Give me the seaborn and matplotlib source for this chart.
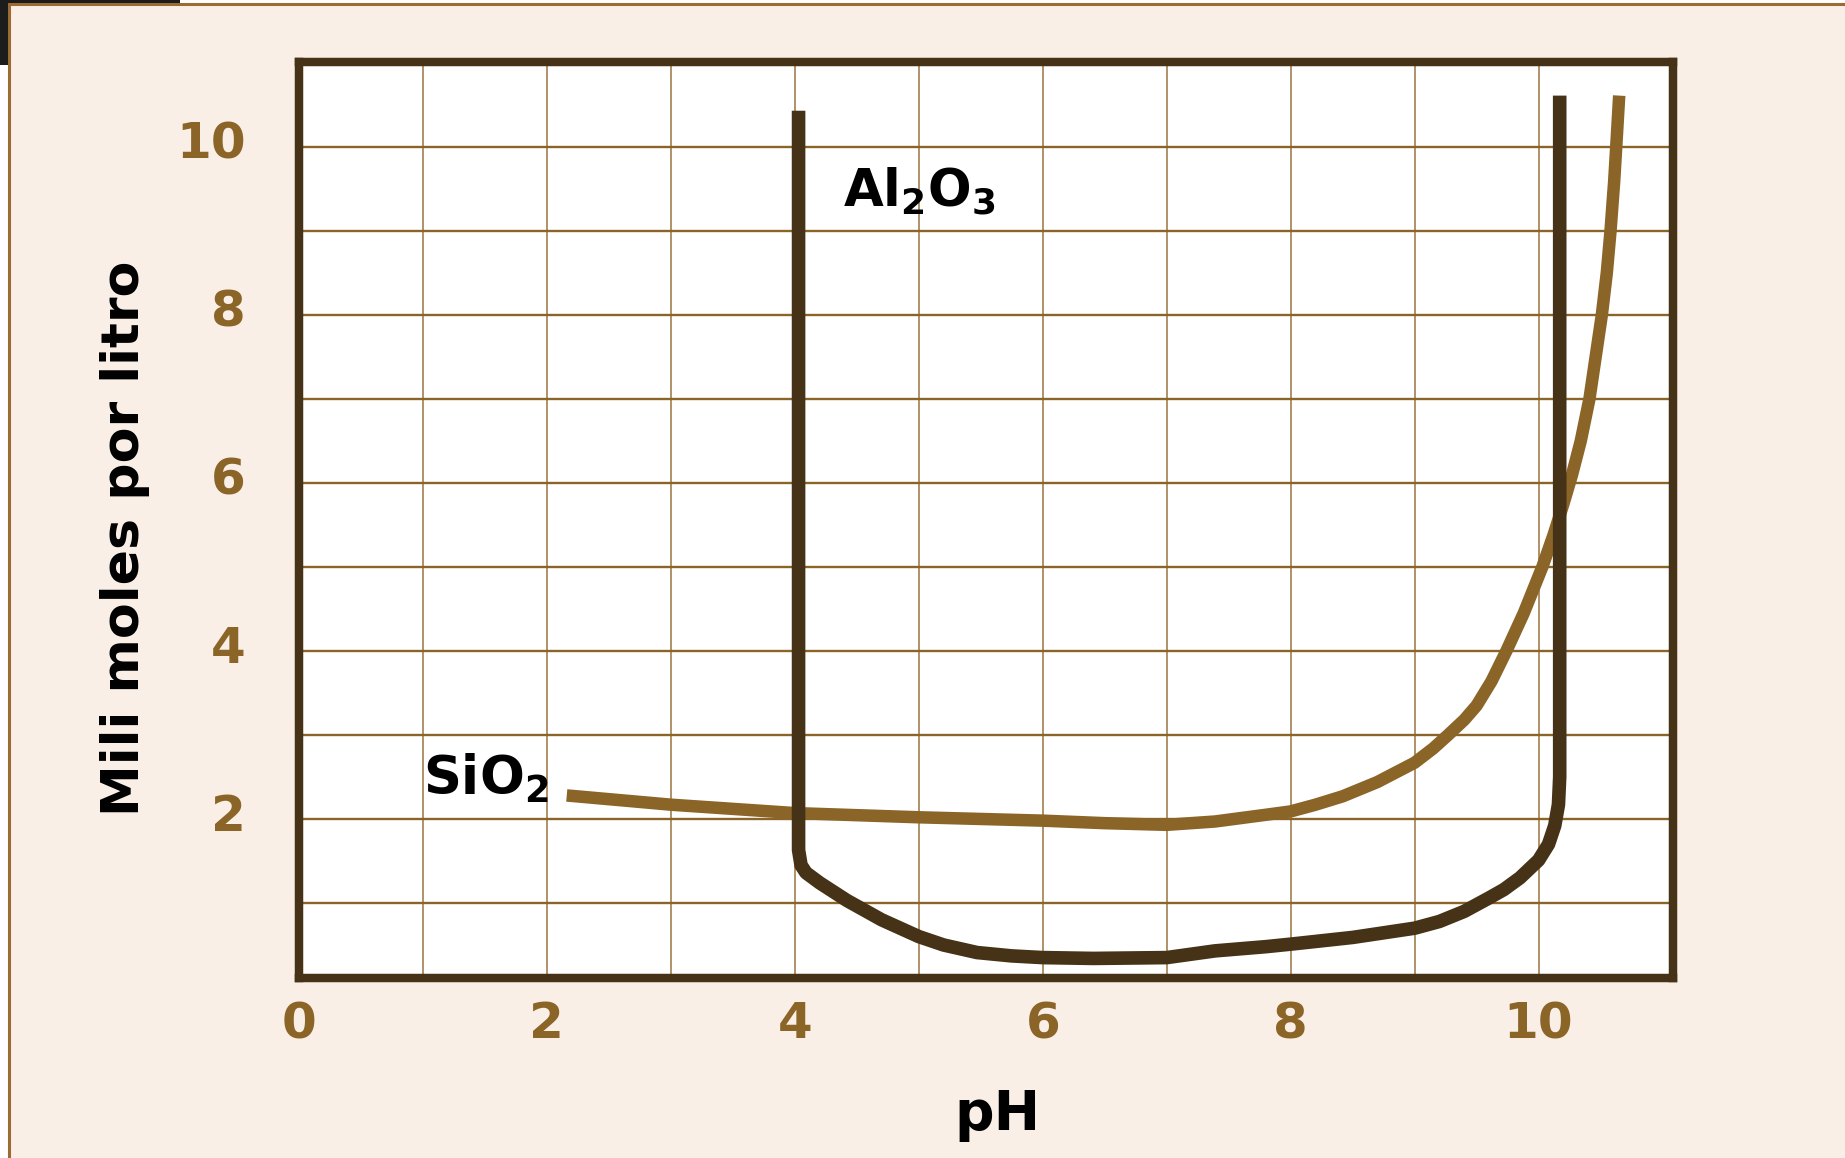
import matplotlib
matplotlib.use("Agg")
import matplotlib.pyplot as plt
import matplotlib.transforms as mtransforms
from matplotlib.patches import Rectangle
from matplotlib.ticker import FixedLocator
import pandas as pd
import seaborn as sns

# Solubility traces: pH vs. millimoles per litre
al2o3_ph = [4.03, 4.03, 4.05, 4.09, 4.20, 4.42, 4.70, 5.00, 5.20, 5.47, 5.75,
            6.00, 6.41, 7.00, 7.39, 7.80, 8.00, 8.50, 9.00, 9.20, 9.40, 9.60,
            9.72, 9.85, 10.00, 10.08, 10.13, 10.16, 10.17, 10.17]
al2o3_mm = [10.43, 1.63, 1.45, 1.36, 1.24, 1.03, 0.80, 0.60, 0.50, 0.41, 0.37,
            0.35, 0.34, 0.35, 0.43, 0.48, 0.51, 0.59, 0.70, 0.78, 0.90, 1.06,
            1.16, 1.30, 1.51, 1.70, 1.92, 2.17, 2.50, 10.61]

sio2_ph = [2.16, 3.00, 4.00, 5.00, 6.00, 6.50, 7.00, 7.39, 7.80, 8.00, 8.20,
           8.42, 8.70, 9.00, 9.15, 9.27, 9.40, 9.50, 9.62, 9.74, 9.88, 10.03,
           10.12, 10.20, 10.27, 10.34, 10.41, 10.46, 10.51, 10.55, 10.58,
           10.61, 10.63, 10.65]
sio2_mm = [2.28, 2.17, 2.07, 2.02, 1.98, 1.95, 1.93, 1.97, 2.05, 2.09, 2.17,
           2.27, 2.44, 2.67, 2.84, 3.00, 3.18, 3.35, 3.64, 4.00, 4.45, 5.00,
           5.38, 5.75, 6.10, 6.50, 7.00, 7.50, 8.00, 8.50, 9.00,
           9.60, 10.10, 10.61]

x_ticks = [0, 2, 4, 6, 8, 10]
x_minor = [1, 3, 5, 7, 9]
y_ticks = [2, 4, 6, 8, 10]
y_minor = [1, 3, 5, 7, 9]

AL_COLOR = "#453217"
SI_COLOR = "#8B6428"
GRID_COLOR = "#8B6428"
CREAM = "#F9EFE6"

sns.set_theme(style="white")
plt.rcParams["font.family"] = ["DejaVu Sans"]
plt.rcParams["mathtext.default"] = "regular"

W, H = 1845, 1158
fig = plt.figure(figsize=(W / 100, H / 100), dpi=100)
fig.patch.set_facecolor("white")

# page panel with thin brown frame
fig.patches.append(Rectangle((9 / W, -0.02), 1.05, 1 - 4 / H + 0.02,
                             transform=fig.transFigure, facecolor=CREAM,
                             edgecolor="#9B6B33", linewidth=2.2, zorder=-10))
fig.patches.append(Rectangle((0, 1 - 65 / H), 8 / W, 65 / H,
                             transform=fig.transFigure, facecolor="#1c1c1c",
                             edgecolor="none", zorder=-9))
fig.patches.append(Rectangle((0, 1 - 3 / H), 180 / W, 3 / H,
                             transform=fig.transFigure, facecolor="#1c1c1c",
                             edgecolor="none", zorder=-9))

ax = fig.add_axes([299 / W, 1 - 977.5 / H, 1373.5 / W, 915.5 / H])
ax.set_facecolor("white")

df_al = pd.DataFrame({"pH": al2o3_ph, "mmol": al2o3_mm})
df_si = pd.DataFrame({"pH": sio2_ph, "mmol": sio2_mm})

sns.lineplot(data=df_si, x="pH", y="mmol", sort=False, estimator=None,
             color=SI_COLOR, ax=ax, zorder=3)
sns.lineplot(data=df_al, x="pH", y="mmol", sort=False, estimator=None,
             color=AL_COLOR, ax=ax, zorder=4)
si_line, al_line = ax.lines[0], ax.lines[1]
si_line.set_linewidth(9.0)
al_line.set_linewidth(9.8)
for ln in (si_line, al_line):
    ln.set_solid_capstyle("butt")
    ln.set_solid_joinstyle("round")

ax.set_xlim(0.0, 11.08)
ax.set_ylim(0.113, 11.01)

ax.xaxis.set_major_locator(FixedLocator(x_ticks))
ax.xaxis.set_minor_locator(FixedLocator(x_minor))
ax.yaxis.set_major_locator(FixedLocator(y_ticks))
ax.yaxis.set_minor_locator(FixedLocator(y_minor))
ax.set_xticklabels([str(v) for v in x_ticks])
ax.set_yticklabels([str(v) for v in y_ticks])

ax.grid(True, axis="x", which="both", color="#9A7440", linewidth=1.1, zorder=1)
ax.grid(True, axis="y", which="both", color=GRID_COLOR, linewidth=1.7, zorder=1)
ax.set_axisbelow(True)

ax.tick_params(axis="both", which="both", length=0)
ax.tick_params(axis="x", pad=16.5, labelsize=36, labelcolor=SI_COLOR)
ax.tick_params(axis="y", pad=38.5, labelsize=36, labelcolor=SI_COLOR)
for lab in ax.get_xticklabels() + ax.get_yticklabels():
    lab.set_fontweight("bold")
shift = mtransforms.ScaledTranslation(0, 5 / 72, fig.dpi_scale_trans)
for lab in ax.get_yticklabels():
    lab.set_transform(lab.get_transform() + shift)

for side in ["left", "right", "top", "bottom"]:
    ax.spines[side].set_visible(True)
    ax.spines[side].set_color(AL_COLOR)
    ax.spines[side].set_linewidth(6.1)
    ax.spines[side].set_zorder(5)

ax.set_xlabel("pH", fontsize=40, fontweight="bold", color="black")
ax.set_ylabel("Mili moles por litro", fontsize=37.5, fontweight="bold",
              color="black")
ax.xaxis.set_label_coords((997 - 299) / 1373.5, -(1088 - 977.5) / 915.5)
ax.yaxis.set_label_coords((150 - 299) / 1373.5, (977.5 - 538.5) / 915.5)

ax.text(4.39, 9.29, r"Al$_2$O$_3$", fontsize=37, fontweight="bold",
        color="black", ha="left", va="baseline", zorder=6)
ax.text(1.0, 2.29, r"SiO$_2$", fontsize=38, fontweight="bold",
        color="black", ha="left", va="baseline", zorder=6)

fig.savefig("out.png", dpi=100, facecolor=fig.get_facecolor())
